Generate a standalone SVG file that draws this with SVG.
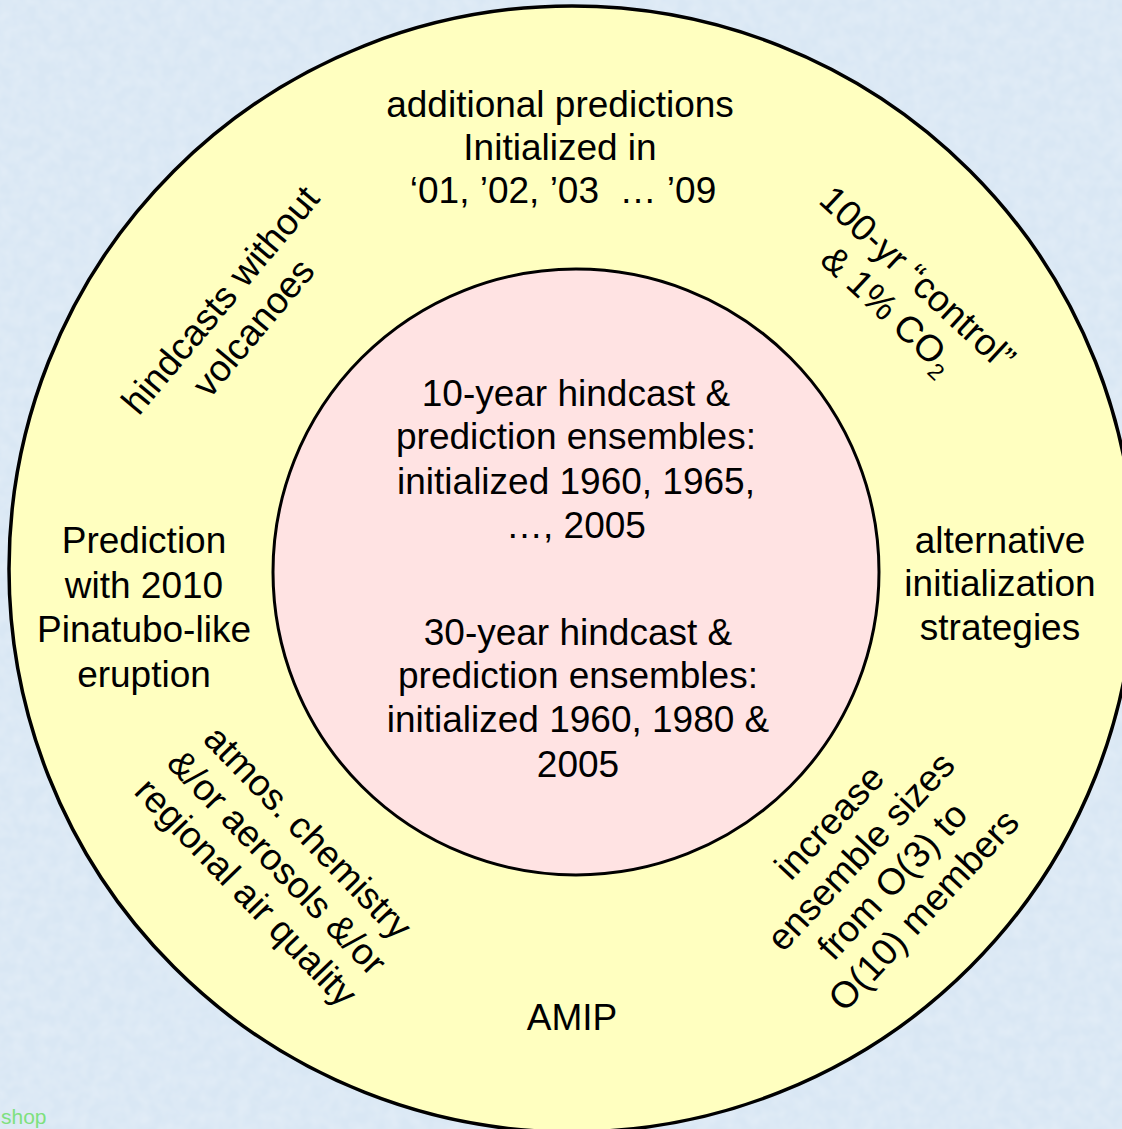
<svg xmlns="http://www.w3.org/2000/svg" width="1122" height="1129" viewBox="0 0 1122 1129">
<defs>
<filter id="tex" x="0" y="0" width="100%" height="100%">
<feTurbulence type="fractalNoise" baseFrequency="0.08" numOctaves="2" seed="3" result="n"/>
<feColorMatrix in="n" type="matrix" values="0 0 0 0 1  0 0 0 0 1  0 0 0 0 1  0 0 0 0.35 -0.1"/>
</filter>
<style>
.t{font-family:"Liberation Sans",Arial,sans-serif;font-size:37px;fill:#000;text-anchor:middle}
.ring{fill:#FFFFC0;stroke:#000;stroke-width:3.5}
.core{fill:#FFE3E3;stroke:#000;stroke-width:3}
</style>
</defs>
<rect id="background" x="0" y="0" width="1122" height="1129" fill="#D9E7F4"/>
<rect x="0" y="0" width="1122" height="1129" filter="url(#tex)"/>
<g id="outer-ring"><circle class="ring" cx="572" cy="569" r="563"/></g>
<g id="inner-core"><circle class="core" cx="576" cy="572" r="303"/></g>
<g id="connectors"></g>
<g id="top-additional-predictions">
<text class="t" x="560" y="117">additional predictions</text>
<text class="t" x="560" y="160">Initialized in</text>
<text class="t" x="563" y="203" xml:space="preserve">‘01, ’02, ’03  … ’09</text>
</g>
<g id="control-co2" transform="translate(909,287.5) rotate(43)">
<text class="t" x="0" y="0">100-yr “control”</text>
<text class="t" x="0" y="43">&amp; 1% CO<tspan font-size="23" dy="8">2</tspan></text>
</g>
<g id="hindcasts-without-volcanoes" transform="translate(230,308) rotate(-50)">
<text class="t" x="0" y="0">hindcasts without</text>
<text class="t" x="0" y="43">volcanoes</text>
</g>
<g id="core-10-year">
<text class="t" x="576" y="406">10-year hindcast &amp;</text>
<text class="t" x="576" y="449">prediction ensembles:</text>
<text class="t" x="576" y="494">initialized 1960, 1965,</text>
<text class="t" x="576" y="538">…, 2005</text>
</g>
<g id="core-30-year">
<text class="t" x="578" y="645">30-year hindcast &amp;</text>
<text class="t" x="578" y="688">prediction ensembles:</text>
<text class="t" x="578" y="732">initialized 1960, 1980 &amp;</text>
<text class="t" x="578" y="777">2005</text>
</g>
<g id="pinatubo">
<text class="t" x="144" y="553">Prediction</text>
<text class="t" x="144" y="598">with 2010</text>
<text class="t" x="144" y="642">Pinatubo-like</text>
<text class="t" x="144" y="687">eruption</text>
</g>
<g id="alternative-initialization">
<text class="t" x="1000" y="553">alternative</text>
<text class="t" x="1000" y="596">initialization</text>
<text class="t" x="1000" y="640">strategies</text>
</g>
<g id="atmos-chemistry" transform="translate(268,871) rotate(46)">
<text class="t" x="0" y="-43">atmos. chemistry</text>
<text class="t" x="0" y="0">&amp;/or aerosols &amp;/or</text>
<text class="t" x="0" y="43">regional air quality</text>
</g>
<g id="ensemble-sizes" transform="translate(870,860) rotate(-47)">
<text class="t" x="0" y="-43">increase</text>
<text class="t" x="0" y="0">ensemble sizes</text>
<text class="t" x="0" y="43">from O(3) to</text>
<text class="t" x="0" y="86">O(10) members</text>
</g>
<g id="amip">
<text class="t" x="572" y="1030">AMIP</text>
</g>
<text x="1" y="1124" font-family="Liberation Sans,Arial,sans-serif" font-size="21" fill="#7EE07E">shop</text>
</svg>
